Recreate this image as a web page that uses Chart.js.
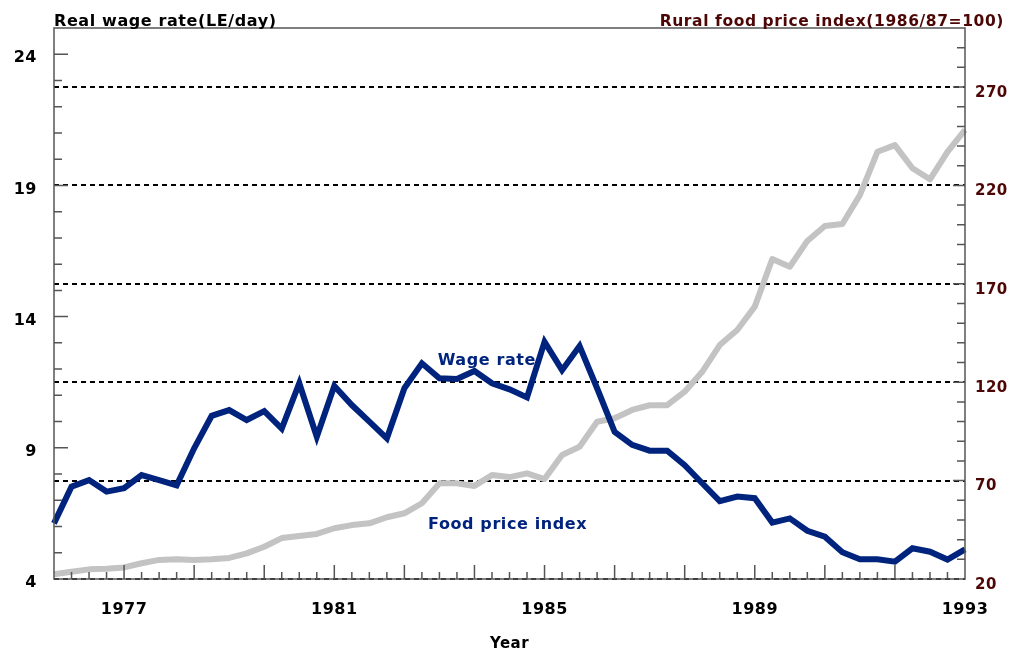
<!DOCTYPE html>
<html>
<head>
<meta charset="utf-8">
<script src="https://cdn.jsdelivr.net/npm/chart.js@4.4.1/dist/chart.umd.min.js"></script>
<style>
  html, body { margin: 0; padding: 0; background: #fff; }
  #wrap { width: 1028px; height: 656px; }
</style>
</head>
<body>
<div id="wrap"><canvas id="chart" width="1028" height="656"></canvas></div>
<script>
/* ── DATA ───────────────────────────────────── */
// real wage rate, LE/day (left axis)
const wageRate = [
    6.12, 7.52, 7.77, 7.33, 7.46, 7.96, 7.77, 7.57, 8.98, 10.22,
    10.44, 10.06, 10.40, 9.73, 11.46, 9.42, 11.36, 10.63, 10.00, 9.36,
    11.27, 12.22, 11.65, 11.62, 11.93, 11.46, 11.23, 10.92, 13.04, 11.96,
    12.88, 11.27, 9.61, 9.11, 8.89, 8.89, 8.34, 7.65, 6.97, 7.14,
    7.08, 6.15, 6.31, 5.84, 5.61, 5.02, 4.75, 4.75, 4.66, 5.17,
    5.04, 4.74, 5.13
];
// rural food price index, 1986/87 = 100 (right axis)
const foodPrice = [
    22.4, 23.7, 24.9, 25.2, 25.9, 28.0, 29.7, 30.0, 29.7, 30.0,
    30.7, 33.0, 36.4, 40.8, 41.8, 42.9, 45.8, 47.4, 48.3, 51.4,
    53.4, 58.5, 68.6, 68.6, 67.3, 72.8, 71.8, 73.7, 70.8, 83.0,
    87.2, 99.9, 101.7, 105.9, 108.3, 108.3, 115.2, 125.3, 138.9, 146.5,
    158.4, 182.6, 178.7, 191.8, 199.4, 200.4, 215.1, 237.1, 240.5, 228.7,
    223.1, 237.1, 248.2
];
const yearLabels = ['1977', '1981', '1985', '1989', '1993'];
const wageTicks  = [4, 9, 14, 19, 24];
const priceTicks = [20, 70, 120, 170, 220, 270];

// three observations a year, starting with the 3rd period of 1975
const periods = wageRate.map((_, i) => {
    const year = 1975 + Math.floor((i + 2) / 3);
    const part = (i + 2) % 3 + 1;
    return year + '-' + part;
});

/* ── STYLE ──────────────────────────────────── */
const NAVY   = '#00237d';
const GREY   = '#c3c3c3';
const MAROON = '#4d0606';
const AXIS   = '#555';
const FONT   = '"DejaVu Sans", "Liberation Sans", Arial, sans-serif';

// in-plot text labels, placed in data units (x = period index, y = wage axis)
const notes = [
    { text: 'Wage rate',        at: 21.9,  value: 12.15 },
    { text: 'Food price index', at: 21.35, value: 5.9 }
];

/* ── FRAME, INNER TICKS, TITLES ─────────────── */
const framePlugin = {
    id: 'frame',
    beforeDraw(chart) {
        chart.ctx.letterSpacing = '0.5px';
    },
    afterDraw(chart) {
        const { ctx, chartArea: a, scales: { x, y, y2 } } = chart;
        ctx.save();
        ctx.letterSpacing = '0px';
        ctx.strokeStyle = AXIS;
        ctx.lineWidth = 1.5;
        ctx.setLineDash([]);
        ctx.beginPath();
        ctx.rect(a.left, a.top, a.right - a.left, a.bottom - a.top);

        periods.forEach((p, i) => {
            const px = x.getPixelForValue(i);
            const len = i % 4 === 0 ? 14 : 7;
            ctx.moveTo(px, a.bottom);
            ctx.lineTo(px, a.bottom - len);
        });
        y.ticks.forEach(t => {
            const py = y.getPixelForValue(t.value);
            const len = wageTicks.includes(t.value) ? 14 : 8;
            ctx.moveTo(a.left, py);
            ctx.lineTo(a.left + len, py);
        });
        y2.ticks.forEach(t => {
            const py = y2.getPixelForValue(t.value);
            const len = priceTicks.includes(t.value) ? 12 : 8;
            ctx.moveTo(a.right, py);
            ctx.lineTo(a.right - len, py);
        });
        ctx.stroke();

        ctx.letterSpacing = '0.6px';
        ctx.font = 'bold 16px ' + FONT;
        ctx.textBaseline = 'alphabetic';
        ctx.textAlign = 'left';
        ctx.fillStyle = '#000';
        ctx.fillText('Real wage rate(LE/day)', a.left, a.top - 2);
        ctx.textAlign = 'right';
        ctx.fillStyle = MAROON;
        ctx.font = 'bold 15.5px ' + FONT;
        ctx.fillText('Rural food price index(1986/87=100)', chart.width - 24, a.top - 2);

        ctx.font = 'bold 16px ' + FONT;
        ctx.textAlign = 'left';
        ctx.fillStyle = NAVY;
        notes.forEach(n => {
            ctx.fillText(n.text, x.getPixelForValue(n.at), y.getPixelForValue(n.value));
        });
        ctx.restore();
    }
};

/* ── CHART ──────────────────────────────────── */
const el = document.getElementById('chart');
new Chart(el, {
    type: 'line',
    data: {
        labels: periods,
        datasets: [
            {
                label: 'Wage rate',
                data: wageRate,
                yAxisID: 'y',
                borderColor: NAVY,
                borderWidth: 6,
                pointRadius: 0,
                tension: 0,
                borderJoinStyle: 'miter'
            },
            {
                label: 'Food price index',
                data: foodPrice,
                yAxisID: 'y2',
                borderColor: GREY,
                borderWidth: 6,
                pointRadius: 0,
                tension: 0,
                borderJoinStyle: 'round'
            }
        ]
    },
    options: {
        responsive: false,
        animation: false,
        layout: { padding: { top: 28, left: 0, right: 0, bottom: 0 } },
        plugins: {
            legend: { display: false },
            tooltip: { enabled: false }
        },
        scales: {
            x: {
                type: 'category',
                offset: false,
                grid: { display: false, drawTicks: false },
                border: { display: false },
                ticks: {
                    autoSkip: false,
                    maxRotation: 0,
                    padding: 21,
                    color: '#000',
                    font: { family: FONT, size: 16, weight: 'bold' },
                    callback: (v, i) => {
                        const [yr, part] = periods[i].split('-');
                        return part === '1' && yearLabels.includes(yr) ? yr : '';
                    }
                },
                title: {
                    display: true,
                    text: 'Year',
                    color: '#000',
                    font: { family: FONT, size: 15, weight: 'bold' },
                    padding: { top: 3, bottom: 3 }
                },
                afterFit: s => { s.height = 77; }
            },
            y: {
                position: 'left',
                min: 4,
                max: 25,
                grid: { display: false, drawTicks: false },
                border: { display: false },
                ticks: {
                    stepSize: 1,
                    autoSkip: false,
                    padding: 17,
                    labelOffset: 4,
                    color: '#000',
                    font: { family: FONT, size: 16, weight: 'bold' },
                    callback: v => wageTicks.includes(v) ? v : ''
                },
                afterFit: s => { s.width = 54; }
            },
            y2: {
                position: 'right',
                min: 20,
                max: 300,
                grid: {
                    drawTicks: false,
                    lineWidth: 2,
                    color: c => priceTicks.includes(c.tick.value) ? '#000' : 'rgba(0,0,0,0)'
                },
                border: { display: false, dash: [5, 4] },
                ticks: {
                    stepSize: 10,
                    autoSkip: false,
                    padding: 10,
                    labelOffset: 6,
                    color: MAROON,
                    font: { family: FONT, size: 15, weight: 'bold' },
                    callback: v => priceTicks.includes(v) ? v : ''
                },
                afterFit: s => { s.width = 63; }
            }
        }
    },
    plugins: [framePlugin]
});
</script>
</body>
</html>
